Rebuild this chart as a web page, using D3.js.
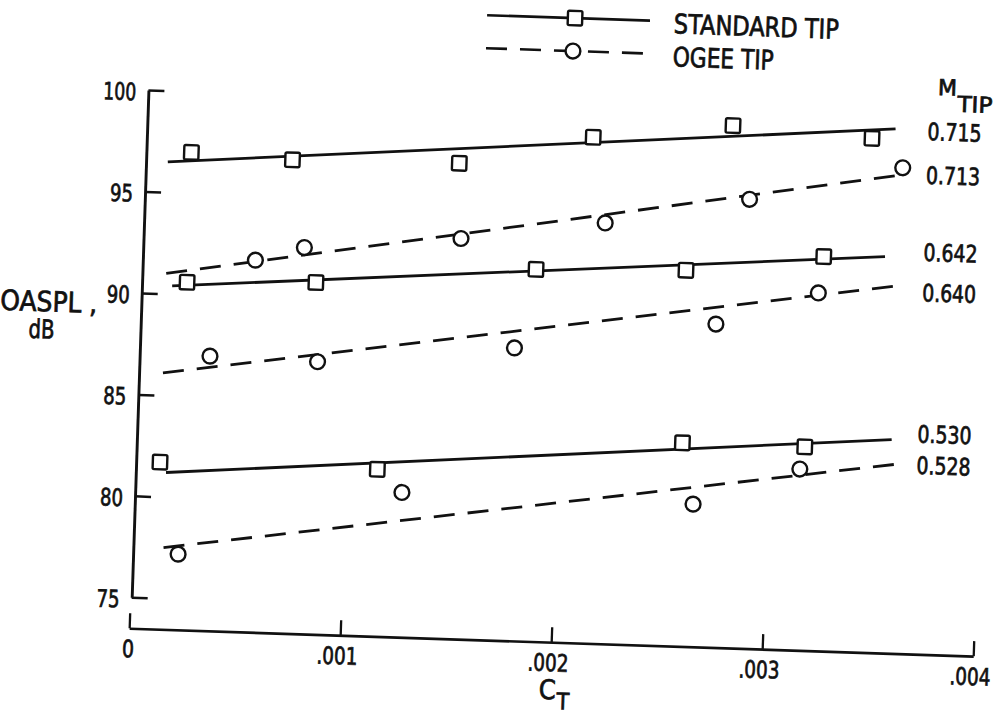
<!DOCTYPE html>
<html>
<head>
<meta charset="utf-8">
<script src="https://cdn.jsdelivr.net/npm/d3@7"></script>
<style>
  html, body { margin: 0; padding: 0; background: #fff; }
  svg { display: block; }
  text { font-family: "Liberation Sans Narrow", "Arial Narrow", "DejaVu Sans Condensed", sans-serif; fill: #111; stroke: #111; stroke-width: 0.7px; }
</style>
</head>
<body>
<svg id="chart" width="997" height="716"></svg>
<script>
// ---- data: OASPL (dB) versus thrust coefficient C_T, by tip shape and tip Mach number ----
const mtipLabels = ["0.715", "0.713", "0.642", "0.640", "0.530", "0.528"];
const tipShape   = ["standard", "ogee", "standard", "ogee", "standard", "ogee"];

const ct715    = [0.00022, 0.00070, 0.00149, 0.00212, 0.00278, 0.00344];
const oaspl715 = [97.0, 96.8, 96.9, 98.4, 99.2, 98.8];
const ct713    = [0.00054, 0.00077, 0.00151, 0.00219, 0.00287, 0.00359];
const oaspl713 = [91.8, 92.5, 93.2, 94.2, 95.6, 97.4];
const ct642    = [0.00022, 0.00083, 0.00187, 0.00258, 0.00323];
const oaspl642 = [90.6, 90.8, 91.8, 92.0, 92.9];
const ct640    = [0.00034, 0.00085, 0.00178, 0.00273, 0.00321];
const oaspl640 = [87.0, 86.9, 87.9, 89.4, 91.1];
const ct530    = [0.00012, 0.00115, 0.00259, 0.00317];
const oaspl530 = [81.7, 81.7, 83.5, 83.5];
const ct528    = [0.00022, 0.00127, 0.00265, 0.00315];
const oaspl528 = [77.2, 80.6, 80.5, 82.4];

// faired lines: [start, end] for each series
const fitCt    = [[0.00011, 0.00355], [0.00012, 0.00356], [0.00015, 0.00352],
                  [0.00012, 0.00360], [0.00015, 0.00358], [0.00015, 0.00361]];
const fitOaspl = [[96.5, 99.3], [91.0, 97.0], [90.4, 93.0],
                  [86.1, 91.6], [81.2, 84.0], [77.5, 82.8]];

const yTicks = [75, 80, 85, 90, 95, 100];
const xTicks = [0, 0.001, 0.002, 0.003, 0.004];
const xTickLabels = ["0", ".001", ".002", ".003", ".004"];
const legendLabels = ["STANDARD TIP", "OGEE TIP"];

// ---- layout ----
const origin = [131.7, 597.3];   // y-axis foot (75 dB)
const tilt = 1.89;               // the whole sheet sits slightly turned
const xAxisDrop = 31;
const labelNudge = [10, 7, 3, 15, 2, 9];
const ink = "#111";

const svg = d3.select("#chart");
svg.append("rect").attr("width", 997).attr("height", 716).attr("fill", "#fff");

const g = svg.append("g").attr("transform", `translate(${origin[0]},${origin[1]}) rotate(${tilt})`);

const x = d3.scaleLinear().domain([0, 0.004]).range([-1.5, 843]);
const y = d3.scaleLinear().domain([75, 100]).range([0, -507.5]);

// y axis: ticks point into the plot, numbers on the left
const yAxis = g.append("g")
  .call(d3.axisLeft(y).tickValues(yTicks).tickFormat(d3.format("d")).tickSize(-16).tickSizeOuter(0).tickPadding(12))
  .attr("font-family", null).attr("font-size", 24);
yAxis.select(".domain").attr("stroke", ink).attr("stroke-width", 2.9);
yAxis.selectAll(".tick line").attr("stroke", ink).attr("stroke-width", 2.5);
yAxis.selectAll(".tick text").attr("fill", ink).attr("dy", "0.42em")
  .attr("textLength", d => d >= 100 ? 33 : 23).attr("lengthAdjust", "spacingAndGlyphs");

// x axis, set a little below the y-axis foot
const xAxis = g.append("g").attr("transform", `translate(0,${xAxisDrop})`)
  .call(d3.axisBottom(x).tickValues(xTicks).tickFormat((d, i) => xTickLabels[i]).tickSize(-15).tickSizeOuter(0).tickPadding(12))
  .attr("font-family", null).attr("font-size", 24);
xAxis.select(".domain").attr("stroke", ink).attr("stroke-width", 2.7);
xAxis.selectAll(".tick line").attr("stroke", ink).attr("stroke-width", 2.3);
xAxis.selectAll(".tick text").attr("fill", ink)
  .attr("dx", d => d === 0 ? -1 : -3)
  .attr("textLength", d => d === 0 ? 12 : 41)
  .attr("lengthAdjust", "spacingAndGlyphs");

// axis titles
g.append("text").attr("x", -141).attr("y", -283).attr("font-size", 28)
  .attr("textLength", 97).attr("lengthAdjust", "spacingAndGlyphs").text("OASPL ,");
g.append("text").attr("x", -112).attr("y", -256).attr("font-size", 26)
  .attr("textLength", 26).attr("lengthAdjust", "spacingAndGlyphs").text("dB");

const ctTitle = g.append("text").attr("x", 410).attr("y", 88).attr("font-size", 27);
ctTitle.append("tspan").text("C");
ctTitle.append("tspan").attr("dx", 1).attr("dy", 10).attr("font-size", 23).text("T");

// series
const series = [
  [ct715, oaspl715], [ct713, oaspl713], [ct642, oaspl642],
  [ct640, oaspl640], [ct530, oaspl530], [ct528, oaspl528]
];
const line = d3.line().x(d => x(d[0])).y(d => y(d[1]));

series.forEach((s, i) => {
  const dashed = tipShape[i] === "ogee";
  g.append("path")
    .attr("d", line(d3.zip(fitCt[i], fitOaspl[i])))
    .attr("fill", "none").attr("stroke", ink).attr("stroke-width", 2.8)
    .attr("stroke-dasharray", dashed ? "21,13" : null);
});

series.forEach((s, i) => {
  const pts = d3.zip(s[0], s[1]);
  if (tipShape[i] === "ogee") {
    g.selectAll(null).data(pts).join("circle")
      .attr("cx", d => x(d[0])).attr("cy", d => y(d[1])).attr("r", 7.4)
      .attr("fill", "#fff").attr("stroke", ink).attr("stroke-width", 2.4);
  } else {
    g.selectAll(null).data(pts).join("rect")
      .attr("x", d => x(d[0]) - 7.2).attr("y", d => y(d[1]) - 7.2)
      .attr("width", 14.4).attr("height", 14.4).attr("rx", 1.5)
      .attr("fill", "#fff").attr("stroke", ink).attr("stroke-width", 2.4);
  }
});

// tip Mach number labels at the right end of each line
const labelX = x(0.004) - 63;
mtipLabels.forEach((lab, i) => {
  g.append("text").attr("x", labelX).attr("y", y(fitOaspl[i][1]) + labelNudge[i])
    .attr("font-size", 24).attr("textLength", 54).attr("lengthAdjust", "spacingAndGlyphs")
    .text(lab);
});
g.append("text").attr("x", labelX + 9).attr("y", y(100) - 21).attr("font-size", 22)
  .attr("textLength", 19).attr("lengthAdjust", "spacingAndGlyphs").text("M");
g.append("text").attr("x", labelX + 29).attr("y", y(100) - 5).attr("font-size", 22)
  .attr("textLength", 35).attr("lengthAdjust", "spacingAndGlyphs").text("TIP");

// legend
const legend = g.append("g").attr("transform", `translate(336,${y(100) - 86})`);
[0, 1].forEach(k => {
  const ly = k * 33;
  legend.append("line").attr("x1", 0).attr("x2", 163).attr("y1", ly).attr("y2", ly)
    .attr("stroke", ink).attr("stroke-width", 2.6)
    .attr("stroke-dasharray", k === 1 ? "21,13" : null);
  if (k === 0) {
    legend.append("rect").attr("x", 88 - 7.2).attr("y", ly - 7.2).attr("width", 14.4).attr("height", 14.4)
      .attr("rx", 1.5).attr("fill", "#fff").attr("stroke", ink).attr("stroke-width", 2.4);
  } else {
    legend.append("circle").attr("cx", 87).attr("cy", ly).attr("r", 7.4)
      .attr("fill", "#fff").attr("stroke", ink).attr("stroke-width", 2.4);
  }
  legend.append("text").attr("x", 187).attr("y", ly + 12).attr("font-size", 27)
    .attr("textLength", k === 0 ? 165 : 101).attr("lengthAdjust", "spacingAndGlyphs")
    .text(legendLabels[k]);
});
</script>
</body>
</html>
